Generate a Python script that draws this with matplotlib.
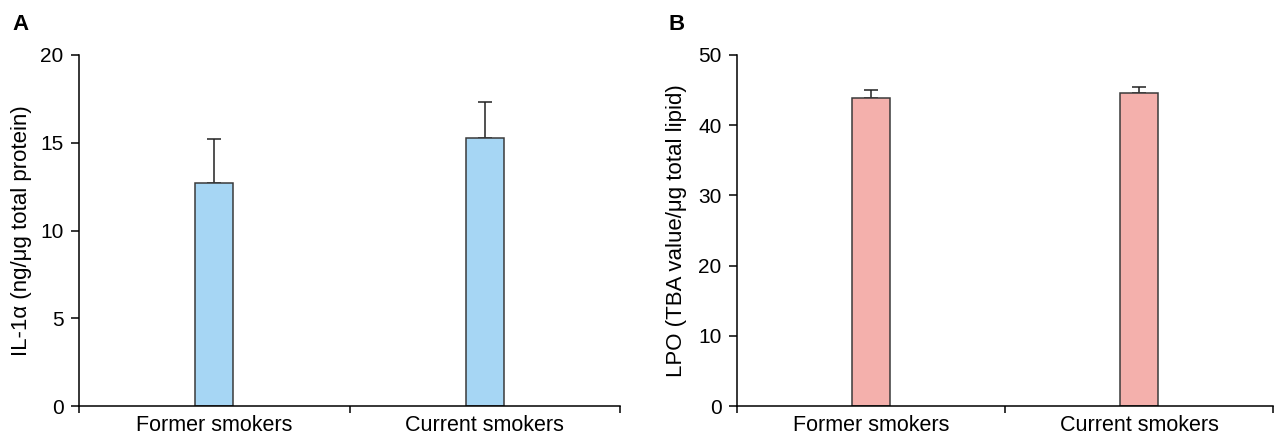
import matplotlib
matplotlib.use("Agg")
import matplotlib.pyplot as plt

plt.rcParams['font.family'] = ['Liberation Sans', 'DejaVu Sans']

groups = ['Former smokers', 'Current smokers']

# panel A: IL-1alpha
il1a_mean = [12.7, 15.25]
il1a_err = [2.5, 2.05]

# panel B: LPO
lpo_mean = [43.9, 44.6]
lpo_err = [1.1, 0.9]

fig = plt.figure(figsize=(12.74, 4.38), dpi=100)
axA = fig.add_axes([79/1274, 32/438, (620-79)/1274, 351/438])
axB = fig.add_axes([737/1274, 32/438, (1273-737)/1274, 351/438])


def draw_panel(ax, means, errs, color, ymax, step, ylabel, lab_x):
    pos = [0.5, 1.5]
    ax.bar(pos, means, width=0.14, color=color, edgecolor='#3a3a3a', linewidth=1.1, zorder=2)
    ax.errorbar(pos, means, yerr=[[0]*len(errs), errs], fmt='none', ecolor='#222222',
                elinewidth=1.1, capsize=4.7, capthick=1.1, zorder=1)
    ax.set_xlim(0, 2)
    ax.set_ylim(0, ymax)
    ax.set_yticks(range(0, ymax + 1, step))
    ax.set_xticks([0, 1, 2])
    ax.set_xticklabels([])
    ax.set_xticks(pos, minor=True)
    ax.set_xticklabels(groups, minor=True)
    ax.tick_params(axis='x', which='minor', length=0, pad=6.5, labelsize=15.5)
    ax.tick_params(axis='x', which='major', length=5, width=1.1, direction='out')
    ax.tick_params(axis='y', length=5.5, width=1.1, labelsize=15, pad=5.5)
    for s in ['top', 'right']:
        ax.spines[s].set_visible(False)
    for s in ['left', 'bottom']:
        ax.spines[s].set_linewidth(1.1)
    ax.set_ylabel(ylabel, fontsize=16)
    ax.yaxis.set_label_coords(lab_x, 0.5)


draw_panel(axA, il1a_mean, il1a_err, '#a6d6f4', 20, 5,
           'IL-1\u03b1 (ng/\u03bcg total protein)', -0.087)
draw_panel(axB, lpo_mean, lpo_err, '#f4b0ac', 50, 10,
           'LPO (TBA value/\u03bcg total lipid)', -0.093)

fig.text(12/1274, 1 - 25/438, 'A', fontsize=16, fontweight='bold', va='center')
fig.text(668/1274, 1 - 25/438, 'B', fontsize=16, fontweight='bold', va='center')

fig.savefig('out.png', dpi=100)
